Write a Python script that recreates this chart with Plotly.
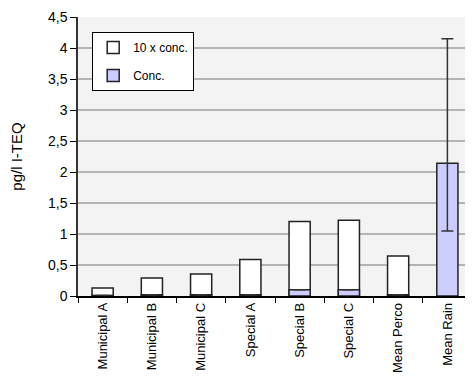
import plotly.graph_objects as go

categories = ["Municipal A", "Municipal B", "Municipal C", "Special A",
              "Special B", "Special C", "Mean Perco", "Mean Rain"]
ten_x_conc = [0.13, 0.29, 0.355, 0.59, 1.20, 1.22, 0.645, None]
conc = [0.01, 0.02, 0.02, 0.02, 0.10, 0.10, 0.02, 2.14]
err_plus = [None, None, None, None, None, None, None, 2.01]
err_minus = [None, None, None, None, None, None, None, 1.09]
y_ticks = [0, 0.5, 1, 1.5, 2, 2.5, 3, 3.5, 4, 4.5]
y_tick_labels = ["0", "0,5", "1", "1,5", "2", "2,5", "3", "3,5", "4", "4,5"]

font_family = "Liberation Sans, Arial, sans-serif"

fig = go.Figure()
fig.add_trace(go.Bar(
    x=categories, y=ten_x_conc, name="10 x conc.",
    marker=dict(color="#ffffff", line=dict(color="#222222", width=1.5)),
    legendgroup="a",
))
fig.add_trace(go.Bar(
    x=categories, y=conc, name="Conc.",
    marker=dict(color="#ccccff", line=dict(color="#222222", width=1.5)),
    error_y=dict(type="data", symmetric=False, array=err_plus, arrayminus=err_minus,
                 color="#333333", thickness=1.5, width=6),
    legendgroup="b",
))

# page body has an 8px default margin, so the figure is sized/margined to compensate
fig.update_layout(
    width=465, height=382,
    margin=dict(l=70, r=1, t=9, b=94, autoexpand=False),
    barmode="overlay", bargap=0.57,
    plot_bgcolor="#f3f3f3", paper_bgcolor="#ffffff",
    font=dict(family=font_family, size=12, color="#000000"),
    showlegend=True,
    legend=dict(
        x=0.036, y=0.946, xanchor="left", yanchor="top",
        bgcolor="#ffffff", bordercolor="#000000", borderwidth=1,
        font=dict(size=12), tracegroupgap=9, traceorder="grouped",
    ),
    xaxis=dict(
        type="category", tickangle=-90, tickson="boundaries",
        ticks="outside", ticklen=5, tickcolor="#000000",
        showline=True, linecolor="#000000", linewidth=1.5, mirror=False,
        tickfont=dict(size=13), showgrid=False, automargin=False,
    ),
    yaxis=dict(
        range=[0, 4.5], tickvals=y_ticks, ticktext=y_tick_labels,
        ticks="outside", ticklen=6, tickcolor="#000000",
        showline=True, linecolor="#333333", linewidth=1.5, mirror=True,
        gridcolor="#b4b4b4", gridwidth=1.5,
        tickfont=dict(size=14),
        title=dict(text="pg/l I-TEQ", font=dict(size=15), standoff=22),
        zeroline=False, automargin=False,
    ),
)

fig.write_html("out.html")
